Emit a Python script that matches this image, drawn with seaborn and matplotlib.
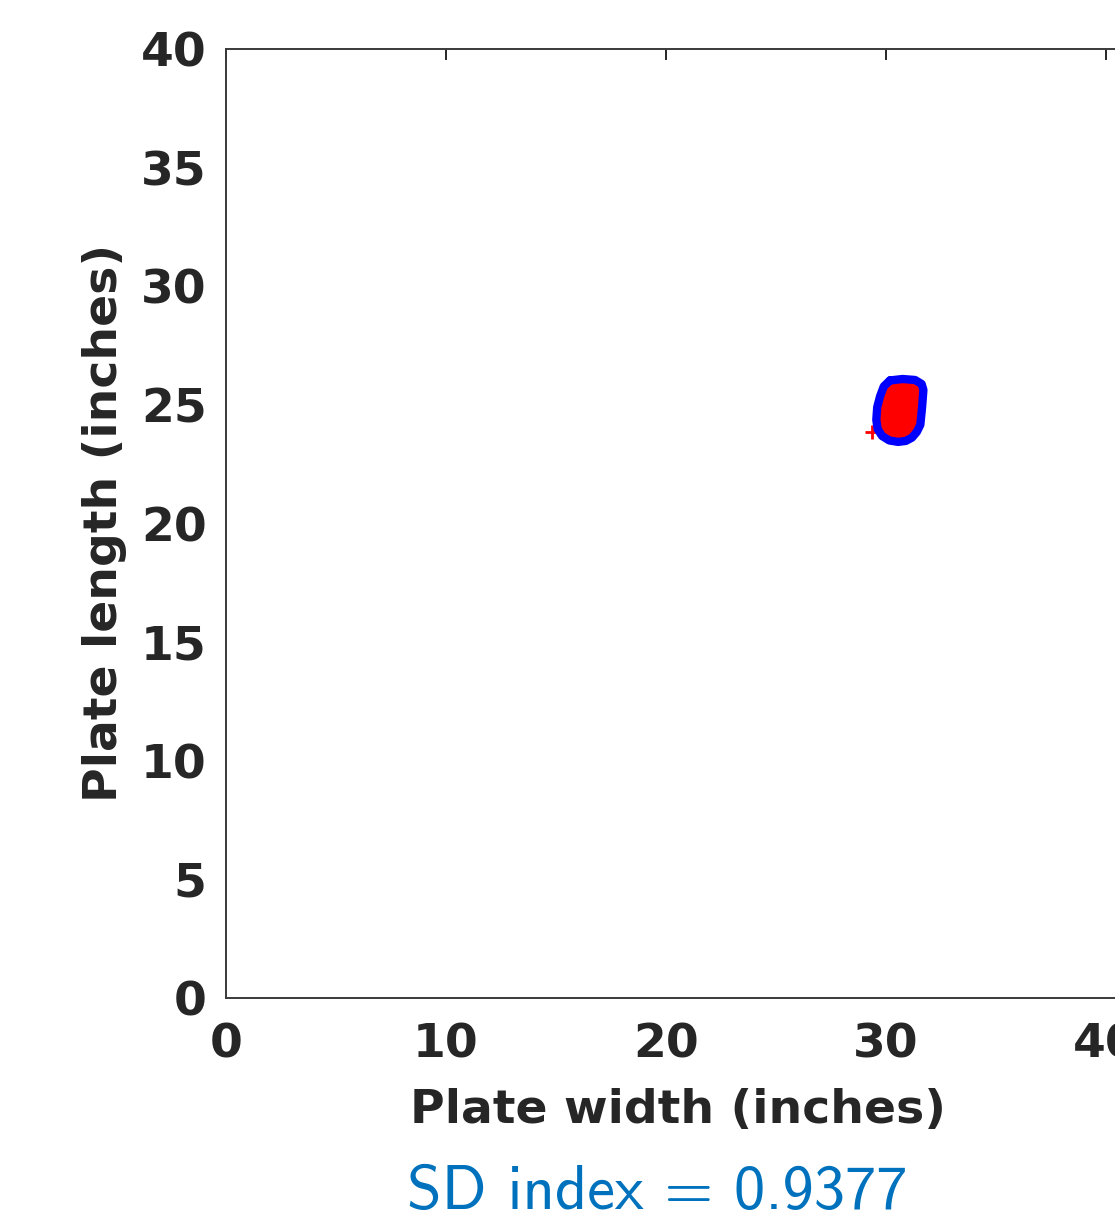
import os
import matplotlib
matplotlib.use("Agg")
import matplotlib.pyplot as plt
from matplotlib.font_manager import FontProperties
import seaborn as sns
import pandas as pd

# Contact-region outline (inches)
blob_x = [30.18, 30.75, 31.32, 31.62, 31.70, 31.64, 31.56, 31.40, 31.18, 30.90, 30.55, 30.15, 29.82, 29.62, 29.56, 29.60, 29.73, 29.90]
blob_y = [26.03, 26.09, 26.05, 25.88, 25.63, 24.90, 24.16, 23.86, 23.62, 23.48, 23.44, 23.50, 23.69, 23.98, 24.37, 24.90, 25.36, 25.78]

# Scattered red points
pt_x = [29.35]
pt_y = [23.85]

x_ticks = [0, 10, 20, 30, 40]
y_ticks = [0, 5, 10, 15, 20, 25, 30, 35, 40]
sd_index = 0.9377

sns.set_theme(style="white")
plt.rcParams['font.family'] = ['DejaVu Sans']

fig = plt.figure(figsize=(11.15, 12.19), dpi=100)
W, H = 1115, 1219
ax = fig.add_axes([226 / W, (H - 998) / H, 924 / W, (998 - 49) / H])

ax.fill(blob_x + blob_x[:1], blob_y + blob_y[:1], facecolor=(1, 0, 0), edgecolor='none', zorder=2)
df = pd.DataFrame({"x": blob_x + blob_x[:1], "y": blob_y + blob_y[:1]})
sns.lineplot(data=df, x="x", y="y", sort=False, estimator=None, color=(0, 0, 1),
             linewidth=6.0, ax=ax, zorder=3, solid_joinstyle='round')
pts = pd.DataFrame({"x": pt_x, "y": pt_y})
sns.scatterplot(data=pts, x="x", y="y", marker="+", s=90, color=(1, 0, 0),
                linewidth=2, ax=ax, zorder=1)

ax.set_xlim(0, 42)
ax.set_ylim(0, 40)
ax.set_xticks(x_ticks)
ax.set_yticks(y_ticks)

for s in ax.spines.values():
    s.set_color('#3a3a3a')
    s.set_linewidth(1.4)
    s.set_visible(True)

ax.tick_params(axis='both', direction='in', length=8, width=1.4, color='#262626',
               labelsize=34, labelcolor='#262626', top=True, right=True)
ax.tick_params(axis='x', pad=18)
ax.tick_params(axis='y', pad=14)
for lab in ax.get_xticklabels() + ax.get_yticklabels():
    lab.set_fontweight('bold')

ax.set_xlabel("Plate width (inches)", fontsize=34, fontweight='bold', color='#262626')
ax.set_ylabel("Plate length (inches)", fontsize=34, fontweight='bold', color='#262626')
ax.xaxis.set_label_coords((678 - 226) / 924, -0.095)
ax.yaxis.set_label_coords(-0.107, 0.5)

cmss = os.path.join(matplotlib.get_data_path(), 'fonts', 'ttf', 'cmss10.ttf')
fp = FontProperties(fname=cmss, size=45)
fig.text(657 / W, 1 - 1193 / H, "SD index = %.4f" % sd_index,
         fontproperties=fp, color='#0072BD', ha='center', va='center')

fig.savefig("out.png", dpi=100)
